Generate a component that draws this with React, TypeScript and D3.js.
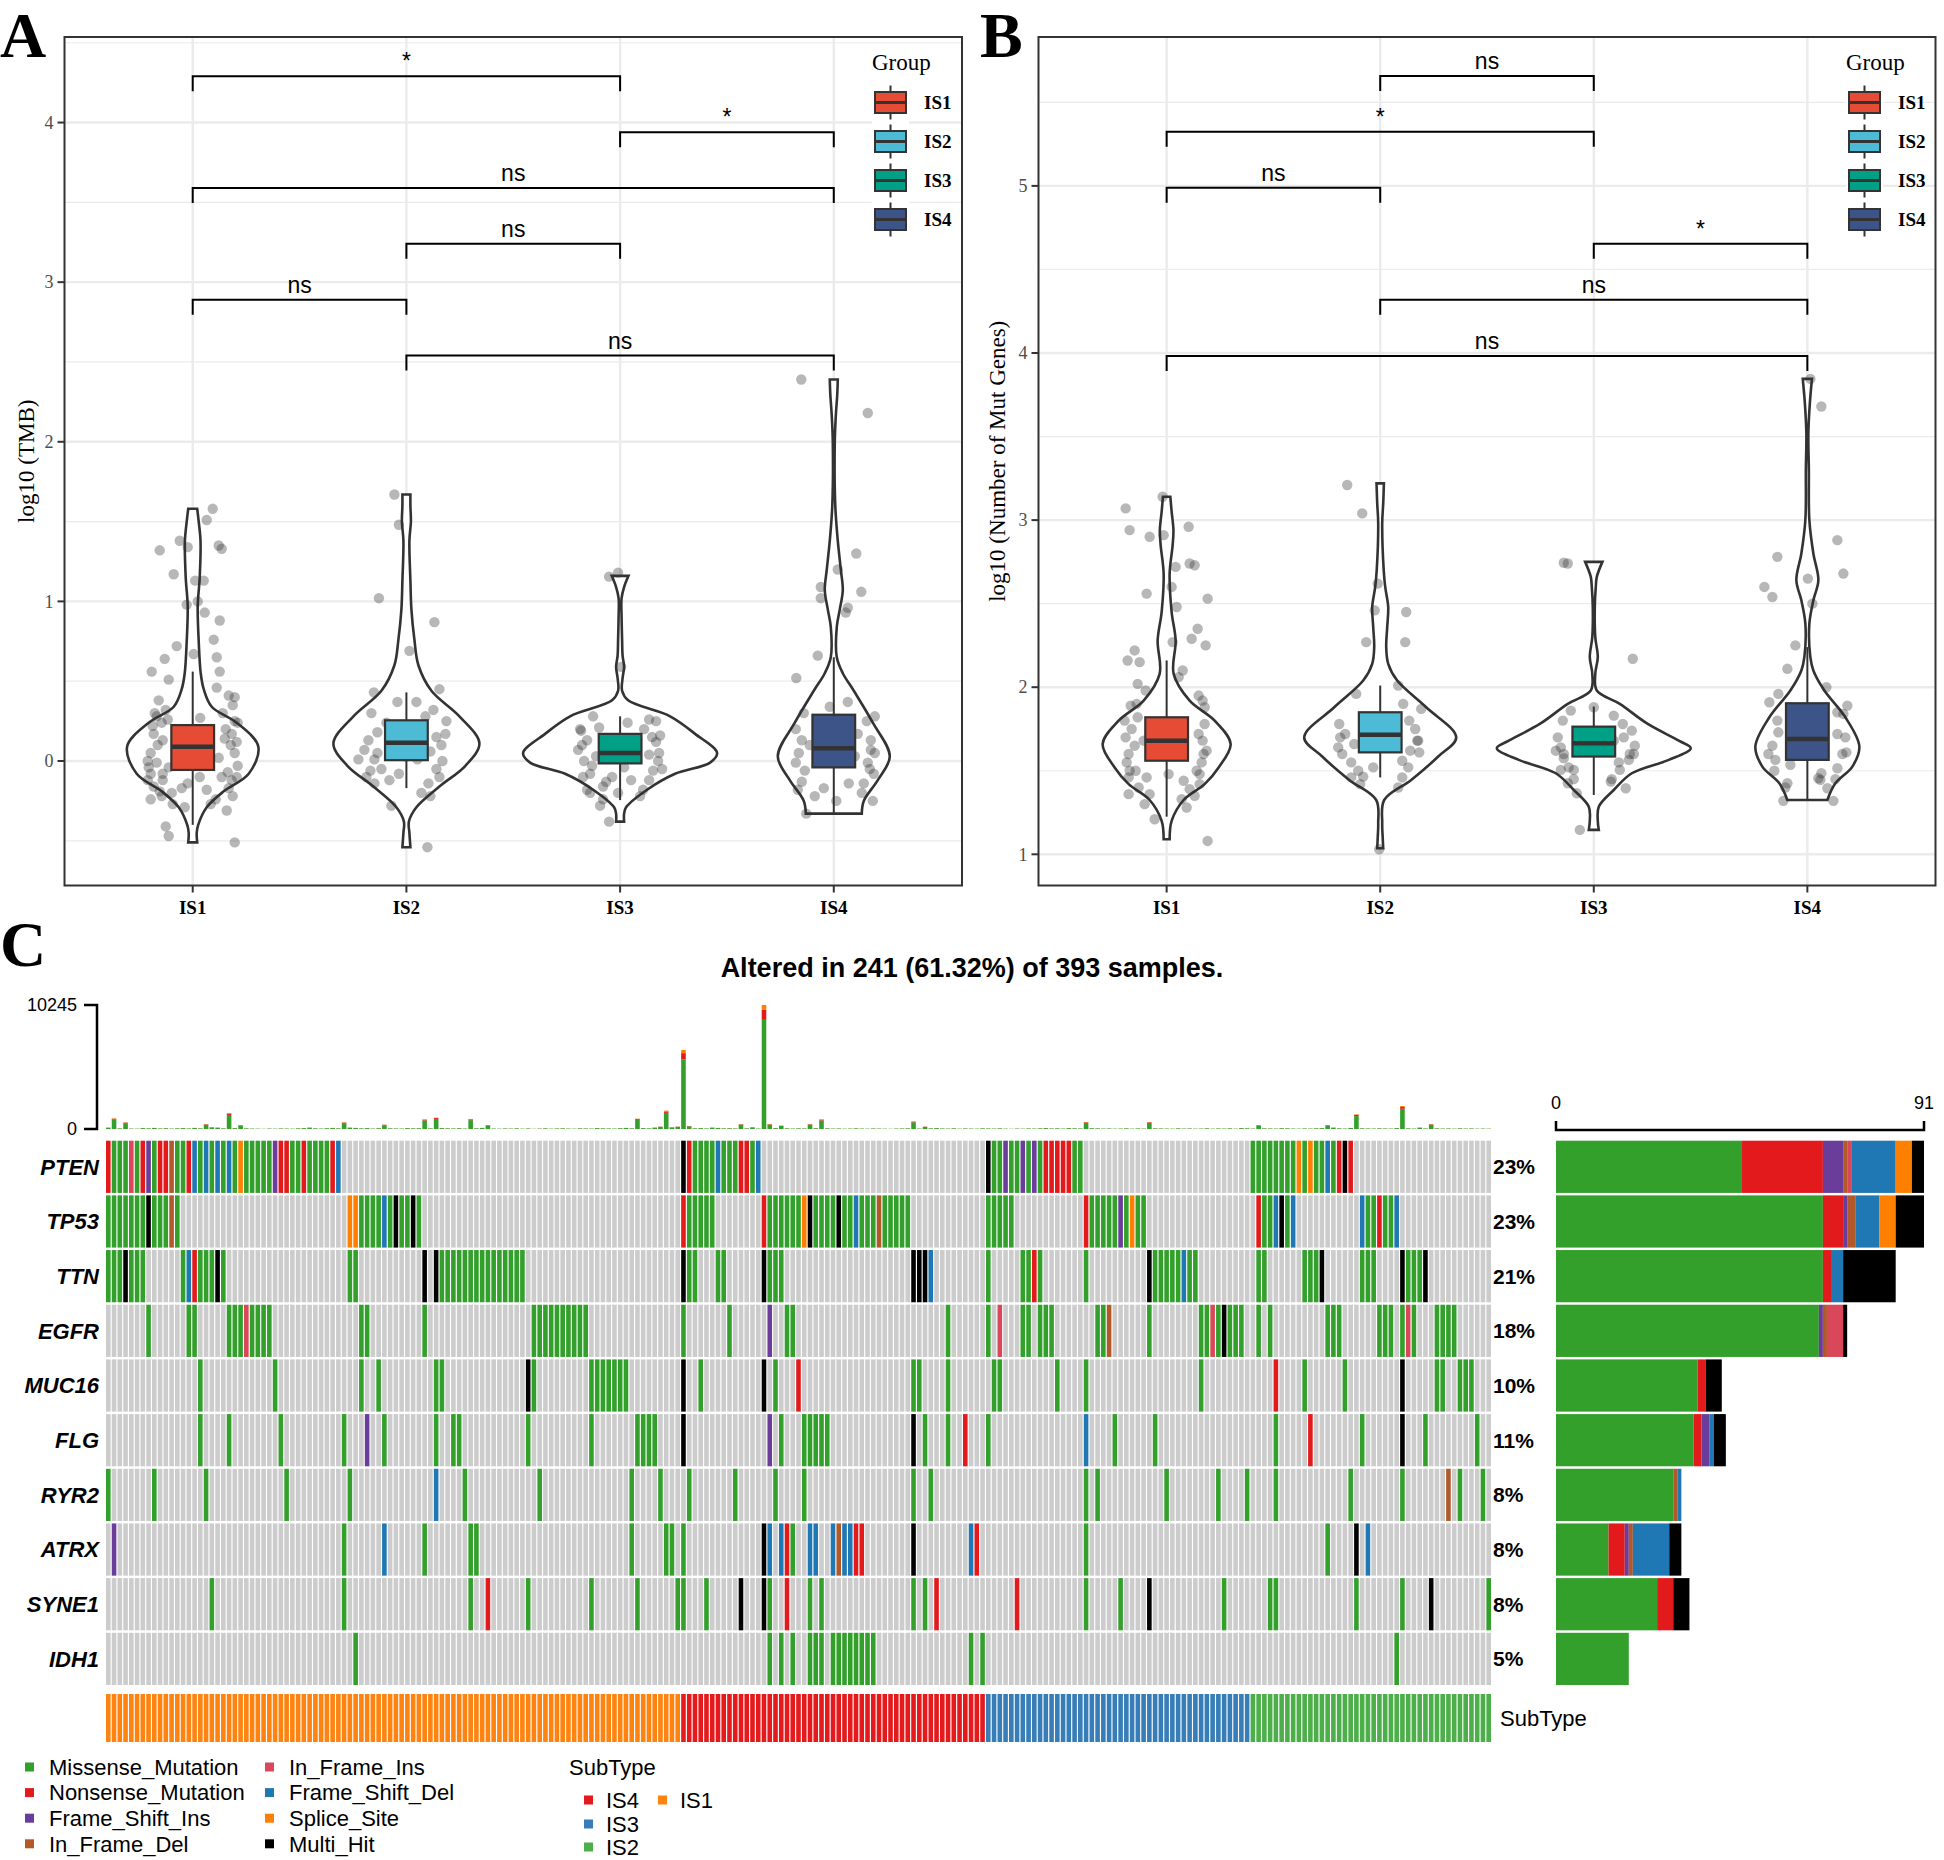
import React from "react";
import * as d3 from "d3";

const SERIF = "'Liberation Serif', 'Times New Roman', serif";
const SANS = "'Liberation Sans', Arial, sans-serif";

const GROUPS = ["IS1", "IS2", "IS3", "IS4"];
const GROUP_COLORS = ["#E64B35", "#4DBBD5", "#00A087", "#3C5488"];

// ---------- Panel A (log10 TMB) ----------
// violin profiles: [value, half width]
const violinA_IS1 = [[-0.51,4.5],[-0.45,4],[-0.4,5.5],[-0.29,14],[-0.19,31],[-0.08,56],[0.09,65.6],[0.24,44],[0.34,19],[0.45,11],[0.55,8],[0.75,6],[0.97,5],[1.15,7],[1.38,7.8],[1.5,6],[1.58,4.5]];
const violinA_IS2 = [[-0.54,4],[-0.45,3],[-0.38,2.5],[-0.29,10],[-0.16,33],[-0.03,59],[0.11,73],[0.28,53],[0.44,25],[0.6,12],[0.76,8],[0.95,5],[1.13,4],[1.38,3],[1.5,4.5],[1.6,4],[1.67,4]];
const violinA_IS3 = [[-0.38,4],[-0.33,4],[-0.29,6],[-0.18,27],[-0.08,55],[-0.01,90],[0.05,97],[0.17,75],[0.28,50],[0.38,8],[0.44,2],[0.52,2.5],[0.59,4],[0.66,2.5],[0.76,2],[0.9,1.5],[1.02,1.5],[1.09,4],[1.16,8.4]];
const violinA_IS4 = [[-0.33,28],[-0.25,30],[-0.12,44],[0.03,56],[0.24,39],[0.44,20],[0.55,9],[0.65,3],[0.84,3],[0.95,6],[1.07,9],[1.2,7],[1.38,4],[1.6,1.5],[2.0,1],[2.16,2],[2.3,3.5],[2.39,4]];
// boxes: [q1, median, q3, whisker low, whisker high]
const boxesA = [[-0.056,0.09,0.225,-0.4,0.56],[0.005,0.115,0.255,-0.17,0.43],[-0.015,0.05,0.17,-0.245,0.28],[-0.04,0.08,0.29,-0.33,0.65]];
// jittered points: [jitter, value]
const pointsA_IS1 = [[20,1.58],[14,1.51],[-33,1.32],[-13,1.38],[-5,1.34],[26,1.35],[29,1.33],[-19,1.17],[2.5,1.13],[11,1.13],[-6,0.98],[5,1.0],[12,0.93],[27,0.88],[21,0.76],[-16,0.72],[1,0.67],[-28,0.64],[24,0.65],[-41,0.56],[27,0.56],[-24,0.51],[24,0.46],[36,0.41],[42,0.4],[-27,0.32],[-36,0.28],[42,0.25],[-31,0.24],[7.5,0.27],[-39,0.17],[39,0.17],[-30,0.13],[32,0.14],[-42,0.05],[42,0.05],[-36,-0.01],[45,-0.03],[-24,-0.04],[-42,-0.08],[29,-0.1],[-30,-0.12],[-39,-0.16],[-11,-0.17],[14,-0.18],[39,-0.12],[-21,-0.2],[-31,-0.22],[40,-0.22],[-5,-0.14],[-8,-0.29],[-27,-0.41],[-24,-0.47],[42,-0.51],[7,-0.1],[26,0.02],[-14,0.02],[-45,-0.12],[23,-0.24],[-30,-0.08],[45,0.24],
  [-35,0.1],[-40,0.22],[38,0.1],[44,0.12],[33,0.2],[-44,-0.04],[-33,-0.19],[35,-0.07],[36,-0.17],[-38,0.3],[30,0.3],[-25,0.26],[-45,0.0],[44,-0.1],[-20,-0.27],[18,-0.27],[-42,-0.24],[34,-0.31],[40,0.35],[-34,0.38]];
const pointsA_IS2 = [[-12,1.67],[-7.5,1.48],[-27.5,1.02],[28,0.87],[3,0.69],[-32.5,0.43],[-9,0.37],[10,0.37],[19,0.28],[-29,0.18],[39,0.17],[30,0.15],[-42,0.07],[-29,0.05],[-32,0.01],[36,0.0],[-36,-0.06],[-17,-0.12],[33,-0.1],[22,-0.14],[24,-0.22],[-32,-0.14],[21,-0.54],[-7.5,-0.08],[-1,0.03],[-20,0.24],[-48,0.01],[24,0.06],[11,0.01],[27,0.32],
  [-38,0.13],[35,0.1],[-25,-0.05],[30,-0.05],[-40,-0.1],[40,0.25],[-35,0.3],[15,-0.2],[-15,-0.28],[33,0.45]];
const pointsA_IS3 = [[-11,1.155],[-2,1.18],[1,0.59],[-27,0.28],[7.5,0.24],[29,0.26],[36,0.25],[-39,0.19],[-21,0.21],[-33,0.13],[32,0.15],[-42,0.07],[-24,0.03],[29,0.04],[39,0.05],[-36,0.0],[42,-0.05],[-30,-0.08],[-8,-0.1],[11,-0.12],[29,-0.12],[-17,-0.16],[-2,-0.2],[-33,-0.18],[23,-0.18],[-30,-0.2],[-17,-0.24],[-11,-0.38],[4,-0.04],[17,0.13],[-5,0.13],[36,0.12],[-14,-0.13],
  [-38,0.1],[38,0.0],[-28,-0.03],[33,-0.06],[-40,0.2],[24,0.2],[-20,-0.28],[20,-0.22],[-37,-0.1],[40,0.16]];
const pointsA_IS4 = [[-32.5,2.39],[34,2.18],[22.5,1.3],[4,1.2],[-13,1.09],[-13,1.02],[27.5,1.06],[14,0.96],[12,0.93],[-16,0.66],[-37.5,0.52],[14,0.37],[-4,0.34],[41,0.28],[-32,0.13],[37,0.13],[-35,0.05],[37,0.07],[-38,-0.01],[34,-0.01],[40,-0.08],[-32,-0.13],[15,-0.14],[-10,-0.17],[30,-0.14],[2.5,-0.25],[39,-0.25],[-27.5,-0.33],[-19,-0.22],[21,0.03],[-29,-0.06],[24,0.17],
  [-38,0.2],[36,-0.05],[-30,0.3],[33,0.25],[-36,-0.18],[28,-0.2],[-24,0.1],[41,0.05]];
// brackets: [group index a, group index b, y value, label]
const bracketsA: [number, number, number, string][] = [[0,2,4.29,"*"],[2,3,3.94,"*"],[0,3,3.59,"ns"],[1,2,3.24,"ns"],[0,1,2.89,"ns"],[1,3,2.54,"ns"]];
const ticksA = [0,1,2,3,4];
const minorA = [-0.5,0.5,1.5,2.5,3.5,4.5];

// ---------- Panel B (log10 number of mutated genes) ----------
const violinB_IS1 = [[1.09,3],[1.2,5],[1.325,17],[1.42,38],[1.52,52],[1.66,64],[1.8,48],[1.92,23],[2.08,7],[2.28,9],[2.45,5],[2.68,3],[2.85,6],[2.94,6.8],[3.05,5],[3.14,3.7]];
const violinB_IS2 = [[1.036,3],[1.1,2.5],[1.186,2],[1.325,4],[1.445,31],[1.585,58],[1.7,76],[1.88,46],[2.04,17],[2.14,8],[2.24,6],[2.36,7],[2.48,8],[2.6,5],[2.7,3.5],[2.98,2],[3.1,3],[3.22,3.7]];
const violinB_IS3 = [[1.146,5],[1.2,4],[1.285,5],[1.385,20],[1.485,38],[1.565,75],[1.635,97],[1.68,85],[1.78,54],[1.9,26],[1.98,3],[2.08,1.5],[2.18,4],[2.3,1.5],[2.48,1],[2.6,2],[2.66,3],[2.75,8.6]];
const violinB_IS4 = [[1.325,20],[1.425,28],[1.525,45],[1.645,52],[1.82,38],[1.98,17],[2.1,6],[2.18,3],[2.38,2],[2.52,6],[2.64,11],[2.8,6],[3.0,2],[3.3,1.5],[3.52,1],[3.7,2.5],[3.845,4.6]];
const boxesB = [[1.56,1.68,1.82,1.225,2.16],[1.61,1.715,1.85,1.46,2.01],[1.585,1.664,1.764,1.355,1.884],[1.565,1.69,1.904,1.325,2.24]];
const pointsB_IS1 = [[-41,3.07],[-4,3.14],[-37,2.94],[22,2.96],[-17,2.9],[-3,2.91],[9,2.72],[28,2.73],[23,2.74],[-20,2.56],[41,2.53],[10,2.48],[5,2.6],[31,2.35],[25,2.29],[39,2.25],[6,2.27],[-32,2.22],[-39,2.16],[-27,2.15],[16,2.1],[-29,2.02],[12,2.06],[-21,1.98],[36,1.92],[-36,1.89],[38,1.88],[-29,1.82],[-41,1.7],[32,1.72],[-38,1.6],[37,1.6],[-31,1.5],[-38,1.46],[33,1.48],[-20,1.46],[17,1.44],[33,1.42],[-38,1.36],[-17,1.36],[23,1.39],[20,1.28],[-12,1.21],[41,1.08],[2,1.48],[-23,1.68],
  [-35,1.75],[38,1.78],[-40,1.55],[35,1.55],[-32,1.65],[36,1.68],[-37,1.5],[30,1.5],[-28,1.4],[28,1.35],[-42,1.8],[40,1.62],[-30,1.9],[32,1.95],[-22,1.3],[15,1.33]];
const pointsB_IS2 = [[-33,3.21],[-18,3.04],[-2.5,2.62],[26,2.45],[-5.5,2.46],[-14,2.27],[25,2.27],[18,2.01],[-24,1.96],[23,1.9],[41,1.87],[-41,1.78],[29,1.8],[-42,1.64],[39,1.61],[-26,1.66],[-29,1.55],[22,1.56],[-29,1.46],[22,1.46],[-17,1.465],[-1,1.03],[37,1.68],[-7,1.52],
  [-35,1.72],[35,1.75],[-38,1.6],[30,1.62],[-22,1.5],[28,1.52],[-40,1.7],[38,1.68],[-20,1.42],[18,1.4]];
const pointsB_IS3 = [[-30,2.745],[-26,2.74],[39,2.17],[0,1.88],[20,1.83],[-23,1.86],[29,1.78],[-31,1.8],[38,1.74],[-33,1.64],[41,1.65],[-30,1.575],[35,1.565],[-20,1.505],[26,1.505],[-26,1.425],[17,1.435],[-17,1.365],[32,1.395],[-14,1.146],[-33,1.505],[20,1.68],
  [-36,1.7],[36,1.6],[-30,1.6],[30,1.7],[-25,1.52],[25,1.55],[-38,1.62],[40,1.6],[-20,1.45],[18,1.45]];
const pointsB_IS4 = [[3,3.845],[14,3.68],[30,2.88],[-30,2.78],[36,2.68],[0.5,2.65],[-43,2.6],[-35,2.54],[5,2.5],[-12,2.25],[-20,2.11],[19,2.0],[-29,1.96],[-38,1.91],[40,1.89],[36,1.84],[-29,1.73],[30,1.72],[-39,1.6],[39,1.61],[-32,1.565],[30,1.515],[-17,1.535],[14,1.485],[-20,1.425],[11,1.455],[20,1.395],[-24,1.32],[26,1.32],[13,1.445],
  [-35,1.65],[35,1.6],[-30,1.8],[30,1.85],[-33,1.5],[28,1.45],[-22,1.4],[38,1.7]];
const bracketsB: [number, number, number, string][] = [[1,2,5.658,"ns"],[0,2,5.324,"*"],[0,1,4.989,"ns"],[2,3,4.654,"*"],[1,3,4.319,"ns"],[0,3,3.982,"ns"]];
const ticksB = [1,2,3,4,5];
const minorB = [1.5,2.5,3.5,4.5,5.5];

// ---------- Panel C (oncoplot) ----------
const GENES = ["PTEN","TP53","TTN","EGFR","MUC16","FLG","RYR2","ATRX","SYNE1","IDH1"];
const GENE_PCT = ["23%","23%","21%","18%","10%","11%","8%","8%","8%","5%"];
const N_SAMPLES = 241;
const VC_NAMES = ["Missense_Mutation","Nonsense_Mutation","Frame_Shift_Ins","In_Frame_Del","In_Frame_Ins","Frame_Shift_Del","Splice_Site","Multi_Hit"];
const VC_CODES = ["M","N","I","d","i","D","S","X"];
const VC_COLORS = ["#33A02C","#E31A1C","#6A3D9A","#B15928","#D8475A","#1F78B4","#FF7F00","#000000"];
const SUBTYPE_ORDER = ["IS1","IS4","IS3","IS2"];
const SUBTYPE_COUNTS = [100,53,46,42];
const SUBTYPE_COLORS: Record<string,string> = { IS1: "#FF8310", IS4: "#E41A1C", IS3: "#377EB8", IS2: "#4DAF4A" };

// runs "startColumn:codes" ('.' = not mutated)
const PTEN_RUNS = ["0:NMMMiMNIMNNdMMNDMDMDMDMSMMMMMINNMMNMMMMND","100:XNMMMMDMMMNNMD","153:XMMIMMIMIMNNNNNMM","199:MMMMMMMMSMSMMDMNXN"];
const TP53_RUNS = ["0:MMMMMMMXMMMdM","42:SSMMMMDMXMMXM","100:NMMMMM","114:NMMMMMMSXMMMMXMMDMMMdMMMMM","153:MMMMM","170:NMMMMMIMSMM","200:NMMDXMD","218:DMMNMMD"];
const TTN_RUNS = ["0:MMMXMMM","13:MDNMMMXM","42:MM","55:X.XMMMMMMMMMMMMMMM","100:XMM","106:MM","114:XMMM","140:XXXD","153:M","159:MMNM","170:M","181:XMMMMMDMM","200:MM","208:MMMX","218:MMM","225:XMMMX"];
const EGFR_RUNS = ["7:M","14:MM","21:MMMiMMMM","44:MM","55:M","74:MMMMMMMMMM","100:M","108:M","115:I","118:MM","146:M","153:M.i","159:MM.MMM","172:MMd","181:M","190:MMiMXMMM","200:M.M","212:MMM","221:MMM.MiM","231:MMMM"];
const MUC16_RUNS = ["16:M","29:M","44:M","47:M","57:MM","73:XM","84:MMMMMMM","100:X","103:M","114:X.M","120:N","140:MM","146:M","154:MM","165:M","170:M","190:M","203:N","208:M","215:M","225:X","231:MM","235:MMM"];
const FLG_RUNS = ["16:M","21:M","30:M","41:M","45:I","48:M","57:M","60:MM","73:M","84:M","92:MMMM","100:X","115:I.M","121:MMMMM","140:X.M","146:M","149:N","153:M","170:D","175:M","182:M","203:M","209:N","218:M","225:X","229:M","238:M"];
const RYR2_RUNS = ["0:M","8:M","17:M","31:M","42:M","57:D","62:M","75:M","91:M","96:M","101:M","109:M","116:M","121:M","140:M","143:M","170:M","172:M","184:M","193:M","198:M","203:M","216:M","225:M","233:d","235:M","239:M"];
const ATRX_RUNS = ["1:I","41:M","48:D","55:M","63:MM","91:M","97:MM","100:M","114:XD.DNM","122:DD","126:DdDD","130:NN","140:X","150:DN","170:M","212:M","217:X.D"];
const SYNE1_RUNS = ["18:M","41:M","63:M","66:N","73:M","84:M","92:M","99:M","100:M","104:M","110:X","114:XM","118:N","122:M","124:M","140:M","142:M","144:N","158:N","170:M","176:M","181:X","194:M","202:MM","217:M","225:M","230:X","240:M"];
const IDH1_RUNS = ["43:M","115:M","117:M","119:M","122:MMM","126:MMMMMMMM","150:M","152:M","224:M"];
const GENE_RUNS = [PTEN_RUNS,TP53_RUNS,TTN_RUNS,EGFR_RUNS,MUC16_RUNS,FLG_RUNS,RYR2_RUNS,ATRX_RUNS,SYNE1_RUNS,IDH1_RUNS];

// per-gene counts by variant class (order of VC_NAMES)
const GENE_VC_COUNTS = [
  [46,20,5,1,1,11,4,3],
  [66,5,1,2,0,6,4,7],
  [66,2,0,0,0,3,0,13],
  [65,0,1,1,4,0,0,1],
  [35,2,0,0,0,0,0,4],
  [34,2,2,0,0,1,0,3],
  [29,0,0,1,0,1,0,0],
  [13,4,1,1,0,9,0,3],
  [25,4,0,0,0,0,0,4],
  [18,0,0,0,0,0,0,0],
];
const BAR_MAX = 91;

// TMB per sample (top bar)
const TMB = [
  120,880,60,550,40,30,80,60,90,50,
  70,40,60,80,50,90,60,410,150,120,
  60,1320,80,330,60,40,30,20,40,30,
  50,40,30,60,80,120,60,40,70,90,
  60,550,120,90,60,80,40,70,360,60,
  50,40,80,60,70,800,60,940,80,60,
  50,70,40,830,60,90,330,40,30,50,
  40,60,30,50,20,40,60,30,50,60,
  40,30,60,50,40,80,60,50,40,70,
  90,60,855,80,60,120,200,1515,150,200,
  6530,250,60,80,50,120,90,60,70,50,
  410,60,150,40,10245,410,80,280,60,40,
  60,50,410,70,800,60,40,50,30,40,
  60,40,30,50,40,30,20,40,50,60,
  630,40,200,60,80,50,40,60,30,50,
  40,30,60,50,40,60,30,20,40,30,
  50,40,60,80,50,60,40,80,60,50,
  580,70,60,40,50,30,40,60,30,50,
  40,580,60,50,40,30,60,40,50,30,
  40,60,30,50,40,60,30,80,60,40,
  330,60,50,40,70,60,40,30,50,40,
  60,80,330,120,60,40,90,1210,60,50,
  40,60,50,40,80,1900,60,40,120,50,
  410,60,40,50,30,60,40,50,30,40,
  30,
];
const TMB_MAX = 10245;
const TMB_SHARE = [0.88, 0.08, 0.04]; // missense / nonsense / splice share of each bar
const TMB_SHARE_COLORS = ["#33A02C", "#E31A1C", "#FF7F00"];

function expandRuns(runs: string[], n: number): string[] {
  const arr: string[] = new Array(n).fill(".");
  runs.forEach((r) => {
    const [s, codes] = r.split(":");
    const st = +s;
    codes.split("").forEach((c, i) => {
      if (st + i < n) arr[st + i] = c;
    });
  });
  return arr;
}

type PanelProps = {
  x0: number; x1: number; y0: number; y1: number;
  yDomain: [number, number];
  ticks: number[]; minor: number[];
  violins: number[][][]; boxes: number[][]; points: number[][][];
  brackets: [number, number, number, string][];
  yTitle: string; yTitleX: number;
  legendX: number;
  letter: string; letterX: number;
};

function ViolinPanel(p: PanelProps) {
  const x = d3.scaleLinear().domain([0.4, 4.6]).range([p.x0, p.x1]);
  const y = d3.scaleLinear().domain(p.yDomain).range([p.y1, p.y0]);
  const w = d3.scaleLinear().domain([0, 100]).range([0, 100]);
  const jit = d3.scaleLinear().domain([-50, 50]).range([-50, 50]);
  const boxHalf = (x(1.1) - x(0.9)) / 2;
  const gridC = "#EBEBEB";
  const cx = (i: number) => x(i + 1);
  const legendKeysY = [83, 122, 161, 200];
  return (
    <g>
      {p.minor.map((t) => (
        <line key={"mi" + t} x1={p.x0} x2={p.x1} y1={y(t)} y2={y(t)} stroke={gridC} strokeWidth={1.2} />
      ))}
      {p.ticks.map((t) => (
        <line key={"ma" + t} x1={p.x0} x2={p.x1} y1={y(t)} y2={y(t)} stroke={gridC} strokeWidth={2.4} />
      ))}
      {GROUPS.map((g, i) => (
        <line key={"vg" + g} x1={cx(i)} x2={cx(i)} y1={p.y0} y2={p.y1} stroke={gridC} strokeWidth={2.4} />
      ))}
      {GROUPS.map((g, i) => (
        <rect key={"kb" + g} x={p.legendX - 3} y={legendKeysY[i]} width={37} height={39} fill="white" />
      ))}
      {p.violins.map((v, i) => {
        const area = d3
          .area<number[]>()
          .y((d) => y(d[0]))
          .x0((d) => cx(i) - w(d[1]))
          .x1((d) => cx(i) + w(d[1]))
          .curve(d3.curveCatmullRom.alpha(0.5));
        return <path key={"v" + i} d={area(v) || ""} fill="white" stroke="#333" strokeWidth={2.6} />;
      })}
      {p.points.map((pts, i) =>
        pts.map((d, j) => (
          <circle key={"p" + i + "_" + j} cx={cx(i) + jit(d[0])} cy={y(d[1])} r={5.2} fill="#303030" fillOpacity={0.35} />
        ))
      )}
      {p.boxes.map((b, i) => (
        <g key={"b" + i}>
          <line x1={cx(i)} x2={cx(i)} y1={y(b[2])} y2={y(b[4])} stroke="#333" strokeWidth={2} />
          <line x1={cx(i)} x2={cx(i)} y1={y(b[0])} y2={y(b[3])} stroke="#333" strokeWidth={2} />
          <rect x={cx(i) - boxHalf} width={boxHalf * 2} y={y(b[2])} height={y(b[0]) - y(b[2])} fill={GROUP_COLORS[i]} stroke="#333" strokeWidth={2.2} />
          <line x1={cx(i) - boxHalf} x2={cx(i) + boxHalf} y1={y(b[1])} y2={y(b[1])} stroke="#333" strokeWidth={4.5} />
        </g>
      ))}
      {p.brackets.map((br, k) => {
        const xa = cx(br[0]);
        const xb = cx(br[1]);
        const yy = y(br[2]);
        return (
          <g key={"br" + k}>
            <path d={`M${xa},${yy + 15}V${yy}H${xb}V${yy + 15}`} fill="none" stroke="black" strokeWidth={2} />
            <text x={(xa + xb) / 2} y={yy - 7} textAnchor="middle" fontFamily={SANS} fontSize={23} fill="black">
              {br[3]}
            </text>
          </g>
        );
      })}
      <rect x={p.x0} y={p.y0} width={p.x1 - p.x0} height={p.y1 - p.y0} fill="none" stroke="#333" strokeWidth={2} />
      {p.ticks.map((t) => (
        <g key={"yt" + t}>
          <line x1={p.x0 - 7} x2={p.x0} y1={y(t)} y2={y(t)} stroke="#333" strokeWidth={2} />
          <text x={p.x0 - 11} y={y(t)} dy="0.35em" textAnchor="end" fontFamily={SERIF} fontSize={18} fill="#4D4D4D">
            {t}
          </text>
        </g>
      ))}
      {GROUPS.map((g, i) => (
        <g key={"xt" + g}>
          <line x1={cx(i)} x2={cx(i)} y1={p.y1} y2={p.y1 + 7} stroke="#333" strokeWidth={2} />
          <text x={cx(i)} y={p.y1 + 28} textAnchor="middle" fontFamily={SERIF} fontWeight="bold" fontSize={19} fill="black">
            {g}
          </text>
        </g>
      ))}
      <text transform={`translate(${p.yTitleX},${(p.y0 + p.y1) / 2}) rotate(-90)`} textAnchor="middle" dy="0.35em" fontFamily={SERIF} fontSize={23} fill="black">
        {p.yTitle}
      </text>
      <text x={p.legendX - 3} y={70} fontFamily={SERIF} fontSize={23} fill="black">Group</text>
      {GROUPS.map((g, i) => {
        const ky = legendKeysY[i] + 19.5;
        const kx = p.legendX + 15.5;
        return (
          <g key={"lg" + g}>
            <line x1={kx} x2={kx} y1={ky - 17} y2={ky + 17} stroke="#333" strokeWidth={2} />
            <rect x={p.legendX} y={ky - 10.5} width={31} height={21} fill={GROUP_COLORS[i]} stroke="#333" strokeWidth={2} />
            <line x1={p.legendX} x2={p.legendX + 31} y1={ky} y2={ky} stroke="#333" strokeWidth={3} />
            <text x={p.legendX + 49} y={ky} dy="0.35em" fontFamily={SERIF} fontWeight="bold" fontSize={19} fill="black">{g}</text>
          </g>
        );
      })}
      <text x={p.letterX} y={57} fontFamily={SERIF} fontWeight="bold" fontSize={64} fill="black">{p.letter}</text>
    </g>
  );
}

function OncoPanel() {
  const col = d3.scaleBand<number>().domain(d3.range(N_SAMPLES)).range([106, 1491]).paddingInner(0.2);
  const row = d3.scaleBand<string>().domain(GENES).range([1140.7, 1685]).paddingInner(0.045);
  const tmbY = d3.scaleLinear().domain([0, TMB_MAX]).range([1129, 1005]);
  const barX = d3.scaleLinear().domain([0, BAR_MAX]).range([1556, 1924]);
  const colorOf: Record<string, string> = {};
  VC_CODES.forEach((c, i) => (colorOf[c] = VC_COLORS[i]));
  const matrix = GENE_RUNS.map((r) => expandRuns(r, N_SAMPLES));
  const subtypes: string[] = [];
  SUBTYPE_ORDER.forEach((s, i) => {
    for (let k = 0; k < SUBTYPE_COUNTS[i]; k++) subtypes.push(s);
  });
  const bw = col.bandwidth();
  const rh = row.bandwidth();

  return (
    <g>
      <text x={0} y={966} fontFamily={SERIF} fontWeight="bold" fontSize={64} fill="black">C</text>
      <text x={972} y={977} textAnchor="middle" fontFamily={SANS} fontWeight="bold" fontSize={27} fill="black">
        Altered in 241 (61.32%) of 393 samples.
      </text>
      {TMB.map((v, i) => {
        let acc = 0;
        return (
          <g key={"tmb" + i}>
            {TMB_SHARE.map((s, k) => {
              const lo = acc;
              acc += v * s;
              return (
                <rect key={k} x={col(i)} width={bw} y={tmbY(acc)} height={Math.max(0, tmbY(lo) - tmbY(acc))} fill={TMB_SHARE_COLORS[k]} />
              );
            })}
          </g>
        );
      })}
      <path d="M84,1005H97V1129H84" fill="none" stroke="black" strokeWidth={2.5} />
      <text x={77} y={1005} dy="0.35em" textAnchor="end" fontFamily={SANS} fontSize={18} fill="black">10245</text>
      <text x={77} y={1129} dy="0.35em" textAnchor="end" fontFamily={SANS} fontSize={18} fill="black">0</text>
      {GENES.map((g, gi) => (
        <g key={"row" + g}>
          {matrix[gi].map((c, i) => (
            <rect key={i} x={col(i)} y={row(g)} width={bw} height={rh} fill={c === "." ? "#CCCCCC" : colorOf[c]} />
          ))}
          <text x={99} y={(row(g) as number) + rh / 2} dy="0.35em" textAnchor="end" fontFamily={SANS} fontStyle="italic" fontWeight="bold" fontSize={22} fill="black">
            {g}
          </text>
          <text x={1493} y={(row(g) as number) + rh / 2} dy="0.35em" fontFamily={SANS} fontWeight="bold" fontSize={21} fill="black">
            {GENE_PCT[gi]}
          </text>
          {(() => {
            let acc = 0;
            return GENE_VC_COUNTS[gi].map((n, k) => {
              const lo = acc;
              acc += n;
              if (n === 0) return null;
              return <rect key={"rb" + k} x={barX(lo)} width={barX(acc) - barX(lo)} y={row(g)} height={rh} fill={VC_COLORS[k]} />;
            });
          })()}
        </g>
      ))}
      <path d="M1556,1121V1130H1924V1121" fill="none" stroke="black" strokeWidth={2.5} />
      <text x={barX(0)} y={1103} dy="0.35em" textAnchor="middle" fontFamily={SANS} fontSize={18} fill="black">0</text>
      <text x={barX(BAR_MAX)} y={1103} dy="0.35em" textAnchor="middle" fontFamily={SANS} fontSize={18} fill="black">{BAR_MAX}</text>
      {subtypes.map((s, i) => (
        <rect key={"st" + i} x={col(i)} y={1694} width={bw} height={48} fill={SUBTYPE_COLORS[s]} />
      ))}
      <text x={1500} y={1718} dy="0.35em" fontFamily={SANS} fontSize={22} fill="black">SubType</text>
      {VC_NAMES.map((n, i) => {
        const c = Math.floor(i / 4);
        const r = i % 4;
        const lx = c === 0 ? 25 : 265;
        const ly = 1767 + r * 25.6;
        return (
          <g key={"vl" + n}>
            <rect x={lx} y={ly - 4.5} width={9} height={9} fill={VC_COLORS[i]} />
            <text x={lx + 24} y={ly} dy="0.35em" fontFamily={SANS} fontSize={22} fill="black">{n}</text>
          </g>
        );
      })}
      <text x={569} y={1767} dy="0.35em" fontFamily={SANS} fontSize={22} fill="black">SubType</text>
      {[["IS4", 584, 1800], ["IS1", 658, 1800], ["IS3", 584, 1824], ["IS2", 584, 1847]].map(([s, lx, ly]) => (
        <g key={"sl" + s}>
          <rect x={lx as number} y={(ly as number) - 4.5} width={9} height={9} fill={SUBTYPE_COLORS[s as string]} />
          <text x={(lx as number) + 22} y={ly as number} dy="0.35em" fontFamily={SANS} fontSize={22} fill="black">{s}</text>
        </g>
      ))}
    </g>
  );
}

export default function App() {
  return (
    <svg width={1944} height={1860} style={{ position: "absolute", left: 0, top: 0, background: "white" }} xmlns="http://www.w3.org/2000/svg">
      <rect x={0} y={0} width={1944} height={1860} fill="white" />
      <ViolinPanel
        x0={64.5} x1={962} y0={37} y1={885.5}
        yDomain={[-0.78, 4.536]}
        ticks={ticksA} minor={minorA}
        violins={[violinA_IS1, violinA_IS2, violinA_IS3, violinA_IS4]}
        boxes={boxesA}
        points={[pointsA_IS1, pointsA_IS2, pointsA_IS3, pointsA_IS4]}
        brackets={bracketsA}
        yTitle="log10 (TMB)" yTitleX={26}
        legendX={875}
        letter="A" letterX={0}
      />
      <ViolinPanel
        x0={1038.5} x1={1935.5} y0={37} y1={885.5}
        yDomain={[0.8133, 5.891]}
        ticks={ticksB} minor={minorB}
        violins={[violinB_IS1, violinB_IS2, violinB_IS3, violinB_IS4]}
        boxes={boxesB}
        points={[pointsB_IS1, pointsB_IS2, pointsB_IS3, pointsB_IS4]}
        brackets={bracketsB}
        yTitle="log10 (Number of Mut Genes)" yTitleX={997}
        legendX={1849}
        letter="B" letterX={980}
      />
      <OncoPanel />
    </svg>
  );
}
